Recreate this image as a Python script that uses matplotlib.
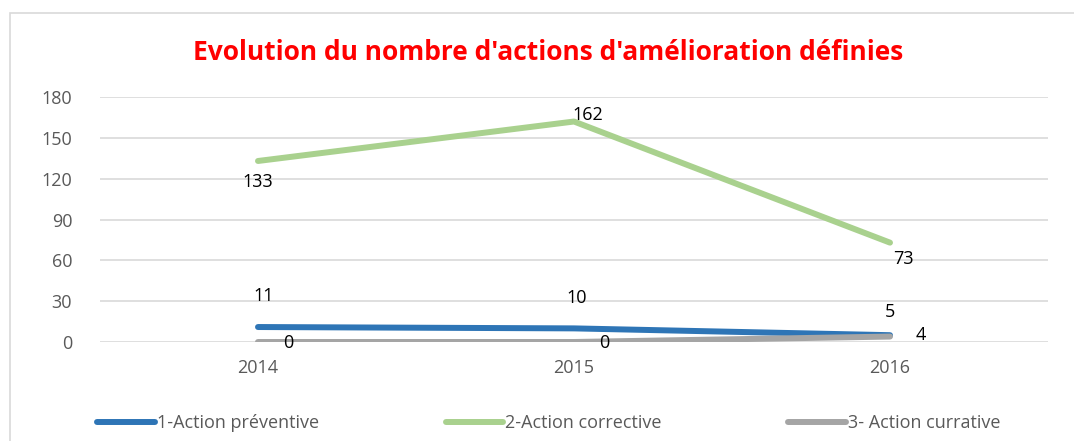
import matplotlib.pyplot as plt
from matplotlib.patches import Rectangle

years = ["2014", "2015", "2016"]
preventive = [11, 10, 5]
corrective = [133, 162, 73]
curative = [0, 0, 4]
series_names = ["1-Action préventive", "2-Action corrective", "3- Action currative"]
colors = ["#2E75B6", "#A9D18E", "#A5A5A5"]

plt.rcParams['font.family'] = ['Open Sans', 'DejaVu Sans']

fig = plt.figure(figsize=(10.74, 4.41), dpi=100)
ax = fig.add_axes([0.0931, 0.2245, 0.8827, 0.5555])

# chart frame
fig.patches.append(Rectangle((10 / 1074, -0.1), 1.2, 1 - 13 / 441 + 0.1, transform=fig.transFigure,
                             fill=False, edgecolor="#D9D9D9", linewidth=1.2))

x = list(range(len(years)))
for vals, name, c in zip([preventive, corrective, curative], series_names, colors):
    ax.plot(x, vals, color=c, linewidth=4.3, solid_capstyle="round", label=name, zorder=3)

# data labels (offsets in points)
offsets = {
    0: [(4, 22), (2, 22), (0, 17)],
    1: [(0, -15), (10, 5), (10, -12)],
    2: [(22, -1), (22, -1), (22, 1)],
}
for si, vals in enumerate([preventive, corrective, curative]):
    for i, v in enumerate(vals):
        dx, dy = offsets[si][i]
        ax.annotate(str(v), (i, v), xytext=(dx, dy), textcoords="offset points",
                    ha="center", va="center", fontsize=13, color="black", zorder=4)

ax.set_xlim(-0.5, 2.5)
ax.set_ylim(0, 180)
ax.set_yticks(range(0, 181, 30))
ax.set_xticks(x)
ax.set_xticklabels(years)
ax.tick_params(axis="both", length=0, labelsize=13, labelcolor="#595959")
ax.tick_params(axis="y", pad=20)
ax.tick_params(axis="x", pad=12)
ax.grid(axis="y", color="#D9D9D9", linewidth=1.2)
ax.set_axisbelow(True)
for s in ax.spines.values():
    s.set_visible(False)

fig.text(0.51, 1 - 52 / 441, "Evolution du nombre d'actions d'amélioration définies",
         ha="center", va="center", fontsize=19, fontweight="bold", color="#FF0000")

leg = fig.legend(loc="center", bbox_to_anchor=(0.511, 1 - 423 / 441), ncol=3, frameon=False,
                 fontsize=13, handlelength=3.2, handletextpad=0.1, columnspacing=7.0)
for t in leg.get_texts():
    t.set_color("#595959")

fig.savefig("out.png", dpi=100)
